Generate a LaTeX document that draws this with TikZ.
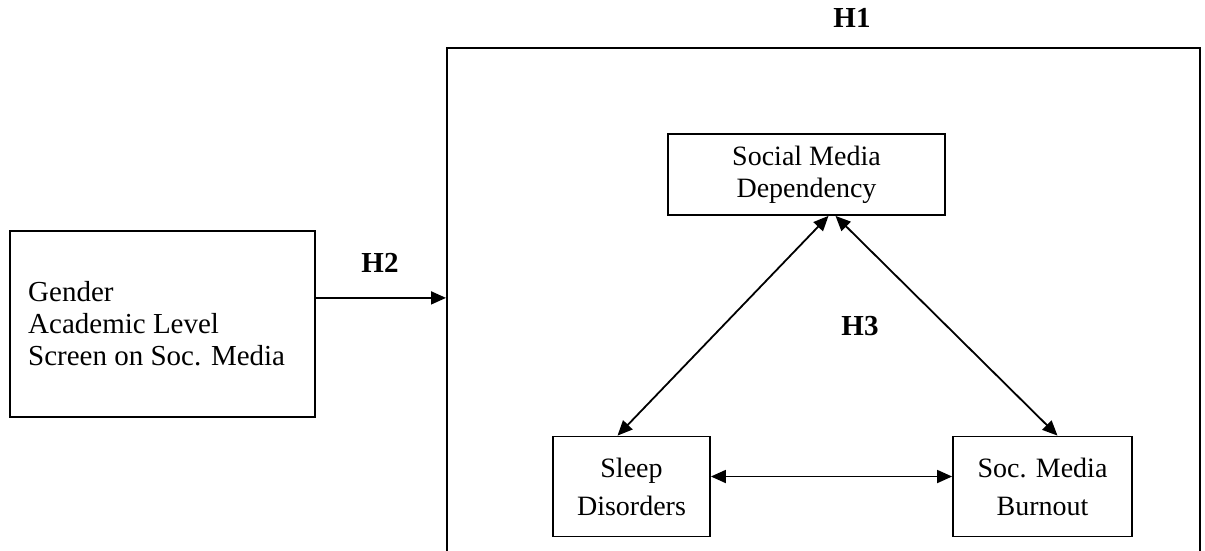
\documentclass[tikz,border=0pt]{standalone}
\usepackage{fontspec}
\setmainfont{Liberation Serif}
\usetikzlibrary{arrows.meta}
\begin{document}
\begin{tikzpicture}[x=1pt,y=-1pt,
  box/.style={draw,line width=1.8pt,rectangle,inner sep=0pt,font=\fontsize{28}{32}\selectfont},
  lab/.style={font=\fontsize{29}{32}\selectfont\bfseries},
  tip/.tip={Triangle[length=15pt,width=13pt]},
  arr/.style={line width=1.8pt,-tip},
  barr/.style={line width=1.8pt,tip-tip}]
\useasboundingbox (0,0) rectangle (1205,550);
% big frame (cut off at bottom)
\node[draw,line width=1.8pt,minimum width=753pt,minimum height=530pt,inner sep=0pt,anchor=north west] (big) at (446,47) {};
\node[lab] (h1) at (852,18) {H1};
% left box
\node[box,minimum width=305pt,minimum height=186pt,anchor=north west] (left) at (9,230) {};
\node[font=\fontsize{29}{32}\selectfont,anchor=west,align=left,inner sep=0pt] (lefttext) at (28,324) {Gender\\Academic Level\\Screen on Soc. Media};
\node[lab] (h2) at (380,263) {H2};
% inner boxes
\node[box,minimum width=277pt,minimum height=81pt,align=center] (smd) at (806.5,174.5) {Social Media\\Dependency};
\node[box,minimum width=157pt,minimum height=100pt,align=center,font=\fontsize{28}{38}\selectfont] (sleep) at (631.5,486.5) {Sleep\\Disorders};
\node[box,minimum width=179pt,minimum height=100pt,align=center,font=\fontsize{28}{38}\selectfont] (burn) at (1042.5,486.5) {Soc. Media\\Burnout};
\node[lab] (h3) at (860,326) {H3};
% connectors
\draw[arr] ([yshift=26pt]left.east) -- ([yshift=26pt]left.east -| big.west);
\draw[barr] ([xshift=-14pt]sleep.north) -- ([xshift=22pt]smd.south);
\draw[barr] ([xshift=15pt]burn.north) -- ([xshift=29pt]smd.south);
\draw[barr] ([yshift=10pt]sleep.east) -- ([yshift=10pt]burn.west);
\end{tikzpicture}
\end{document}
